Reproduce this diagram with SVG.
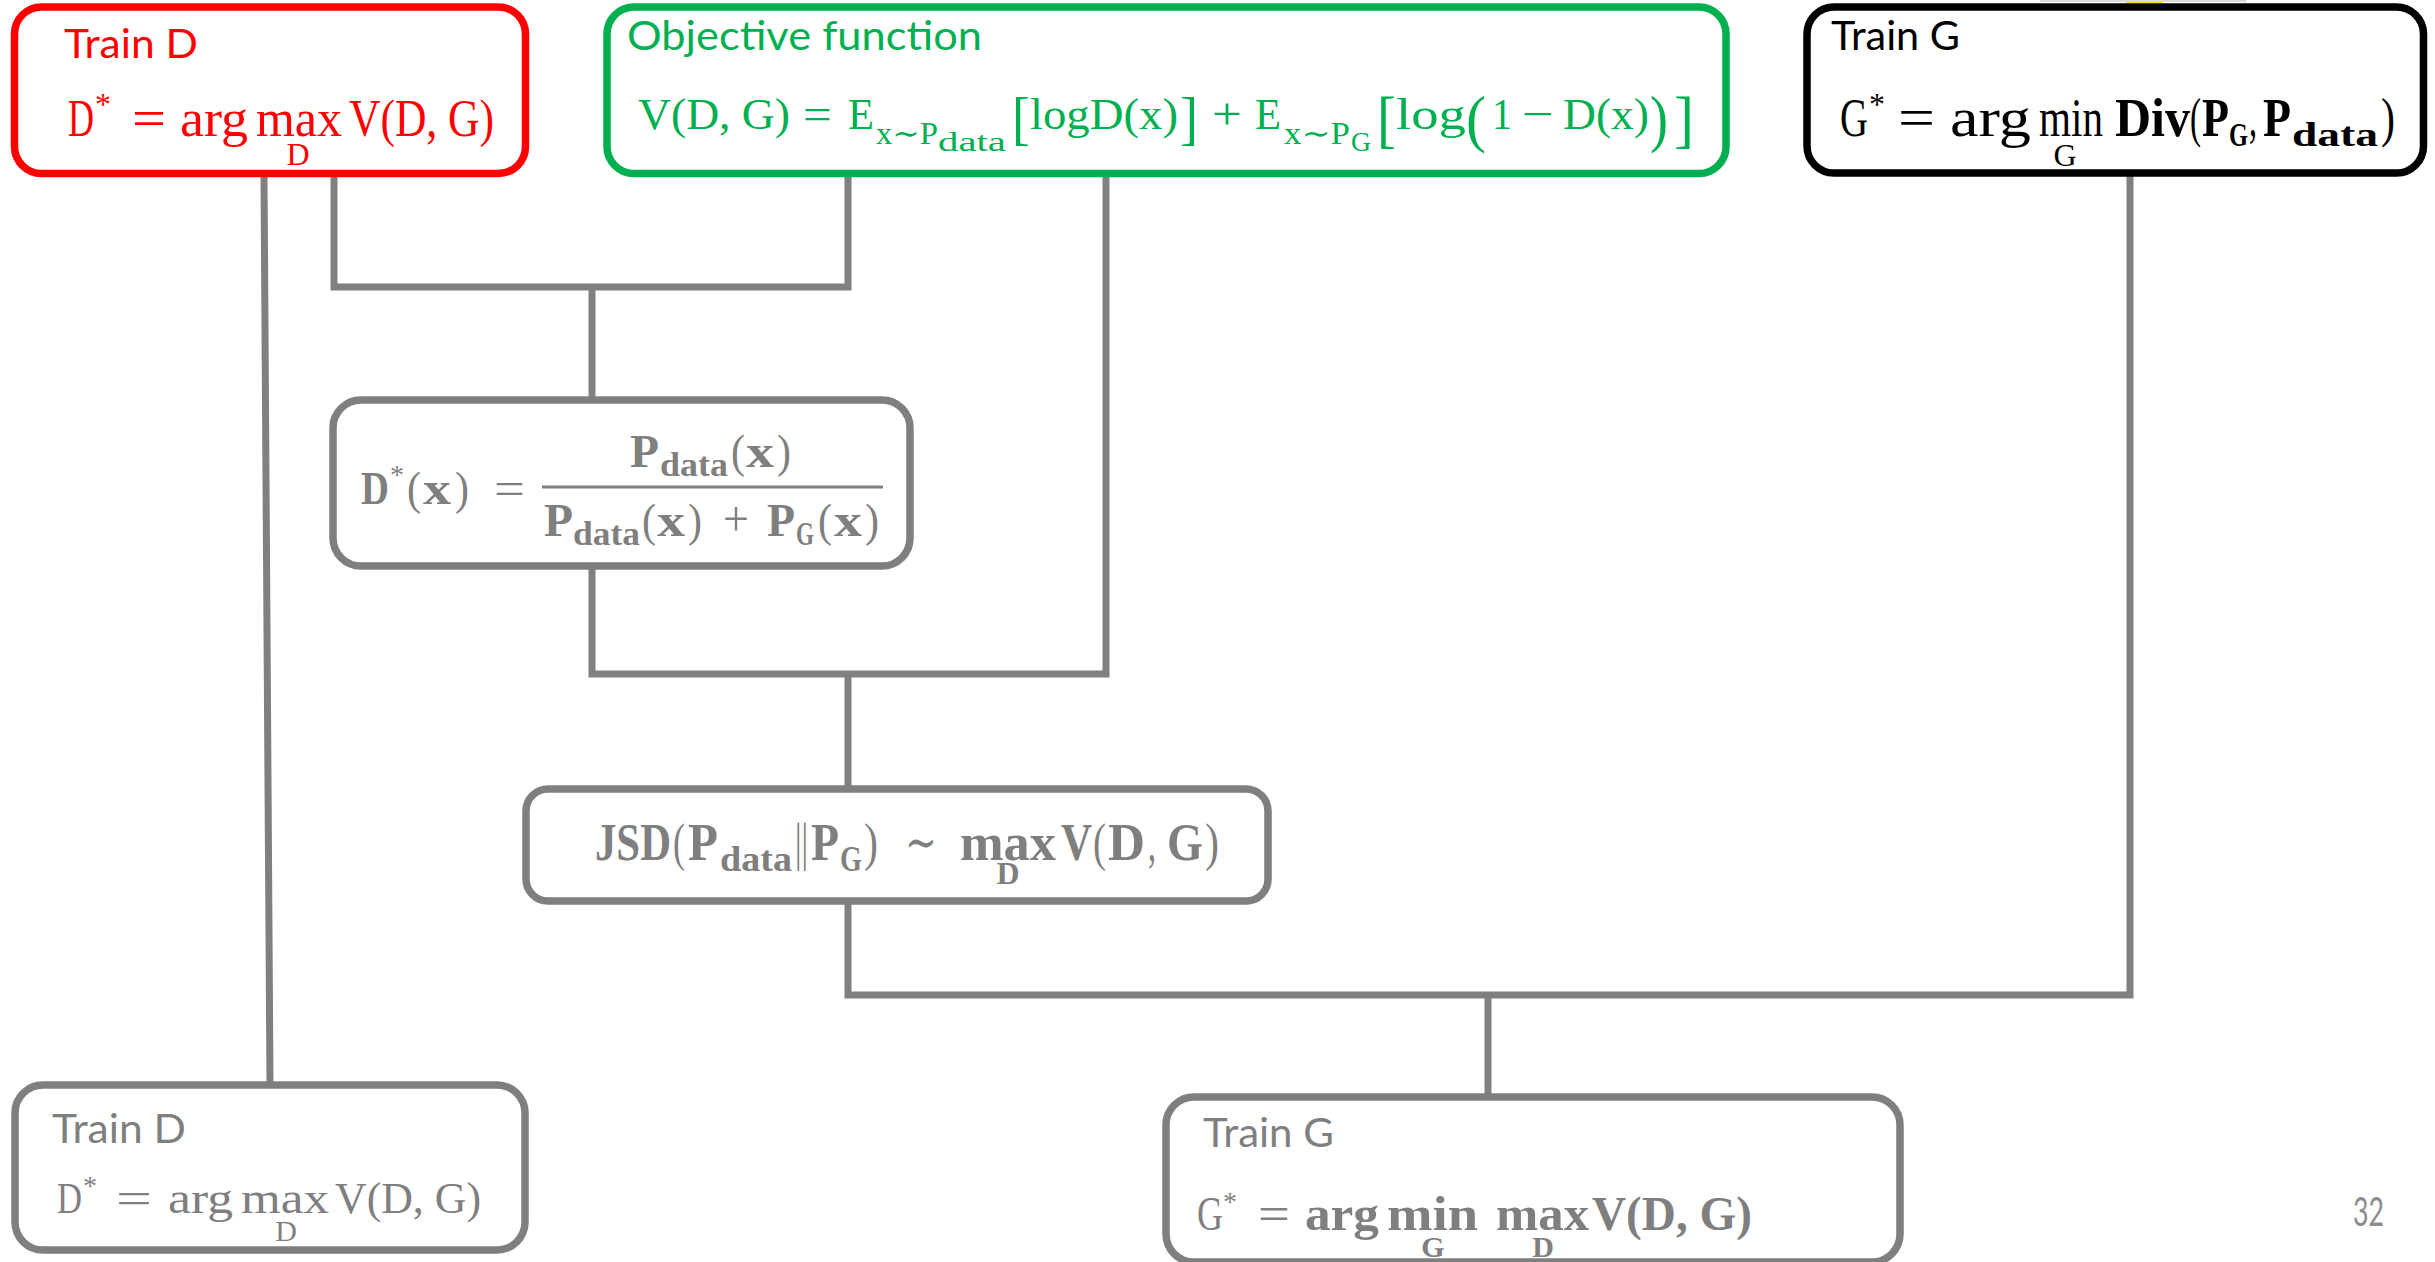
<svg xmlns="http://www.w3.org/2000/svg" width="2435" height="1262" viewBox="0 0 2435 1262">
  <style>
    .lbl { font-family: "Lato", "Open Sans", "Liberation Sans", sans-serif; font-size: 41px; }
    .m { font-family: "Liberation Serif", "DejaVu Serif", serif; }
    .b { font-weight: bold; }
    .red { fill: #ff0000; }
    .grn { fill: #00b050; }
    .blk { fill: #000000; }
    .gry { fill: #7f7f7f; }
    .box { fill: #ffffff; stroke-width: 7.5; }
    .conn { fill: none; stroke: #808080; stroke-width: 7; stroke-linejoin: miter; }
  </style>

  <rect width="2435" height="1262" fill="#ffffff"/>

  <!-- partial shape cut off at the top edge -->
  <rect x="2126" y="0" width="37" height="3" fill="#ffd700"/>
  <line x1="2040" y1="1" x2="2246" y2="1" stroke="#d9d9d9" stroke-width="2"/>

  <!-- connectors -->
  <g id="connectors" class="conn">
    <path d="M264,176 L270,1084"/>
    <path d="M334,176 V287 H848 V176"/>
    <path d="M592,287 V400"/>
    <path d="M592,566 V674 H1106 V176"/>
    <path d="M848,674 V789"/>
    <path d="M848,901 V995 H2130 V176"/>
    <path d="M1488,995 V1096"/>
  </g>

  <!-- Train D (top) -->
  <g id="train-d-top">
    <rect class="box" x="14.5" y="7" width="511" height="166.5" rx="27" stroke="#ff0000"/>
    <text class="lbl red" x="64" y="58" textLength="134" lengthAdjust="spacingAndGlyphs">Train D</text>
    <g class="m red" font-size="52">
      <text x="68" y="136" textLength="26" lengthAdjust="spacingAndGlyphs">D</text>
      <text x="95" y="115" font-size="32">*</text>
      <text x="132" y="136" textLength="34" lengthAdjust="spacingAndGlyphs">=</text>
      <text x="180" y="136" textLength="68" lengthAdjust="spacingAndGlyphs">arg</text>
      <text x="256" y="136" textLength="86" lengthAdjust="spacingAndGlyphs">max</text>
      <text x="349" y="136" textLength="145" lengthAdjust="spacingAndGlyphs">V(D, G)</text>
      <text x="298" y="165" font-size="32" text-anchor="middle">D</text>
    </g>
  </g>

  <!-- Objective function -->
  <g id="objective">
    <rect class="box" x="607" y="7" width="1119" height="166.5" rx="27" stroke="#00b050"/>
    <text class="lbl grn" x="627" y="50" textLength="355" lengthAdjust="spacingAndGlyphs">Objective function</text>
    <g class="m grn" font-size="45">
      <text x="638" y="129" textLength="152" lengthAdjust="spacingAndGlyphs">V(D, G)</text>
      <text x="803" y="129" textLength="29" lengthAdjust="spacingAndGlyphs">=</text>
      <text x="848" y="129" textLength="26" lengthAdjust="spacingAndGlyphs">E</text>
      <text x="876" y="144" font-size="31" textLength="62" lengthAdjust="spacingAndGlyphs">x∼P</text>
      <text x="938" y="151" font-size="27" textLength="68" lengthAdjust="spacingAndGlyphs">data</text>
      <text x="1012" y="138" font-size="60" textLength="18" lengthAdjust="spacingAndGlyphs">[</text>
      <text x="1030" y="129" textLength="148" lengthAdjust="spacingAndGlyphs">logD(x)</text>
      <text x="1180" y="138" font-size="60" textLength="18" lengthAdjust="spacingAndGlyphs">]</text>
      <text x="1212" y="129" textLength="30" lengthAdjust="spacingAndGlyphs">+</text>
      <text x="1255" y="129" textLength="26" lengthAdjust="spacingAndGlyphs">E</text>
      <text x="1284" y="144" font-size="31" textLength="66" lengthAdjust="spacingAndGlyphs">x∼P</text>
      <text x="1351" y="151" font-size="27" textLength="20" lengthAdjust="spacingAndGlyphs">G</text>
      <text x="1377" y="140" font-size="64" textLength="19" lengthAdjust="spacingAndGlyphs">[</text>
      <text x="1396" y="129" textLength="70" lengthAdjust="spacingAndGlyphs">log</text>
      <text x="1466" y="140" font-size="64" textLength="20" lengthAdjust="spacingAndGlyphs">(</text>
      <text x="1492" y="129" textLength="20" lengthAdjust="spacingAndGlyphs">1</text>
      <text x="1522" y="129" textLength="32" lengthAdjust="spacingAndGlyphs">−</text>
      <text x="1563" y="129" textLength="86" lengthAdjust="spacingAndGlyphs">D(x)</text>
      <text x="1650" y="140" font-size="64" textLength="18" lengthAdjust="spacingAndGlyphs">)</text>
      <text x="1674" y="140" font-size="64" textLength="20" lengthAdjust="spacingAndGlyphs">]</text>
    </g>
  </g>

  <!-- Train G (top) -->
  <g id="train-g-top">
    <rect class="box" x="1807" y="7" width="616.5" height="166" rx="27" stroke="#000000"/>
    <text class="lbl blk" x="1831" y="50" textLength="129" lengthAdjust="spacingAndGlyphs">Train G</text>
    <g class="m blk" font-size="54">
      <text x="1840" y="136" textLength="28" lengthAdjust="spacingAndGlyphs">G</text>
      <text x="1869" y="115" font-size="32">*</text>
      <text x="1898" y="136" textLength="37" lengthAdjust="spacingAndGlyphs">=</text>
      <text x="1950" y="136" textLength="81" lengthAdjust="spacingAndGlyphs">arg</text>
      <text x="2039" y="136" textLength="64" lengthAdjust="spacingAndGlyphs">min</text>
      <text x="2065" y="166" font-size="32" text-anchor="middle">G</text>
      <text class="b" x="2115" y="136" textLength="75" lengthAdjust="spacingAndGlyphs">Div</text>
      <text x="2190" y="136" textLength="11" lengthAdjust="spacingAndGlyphs">(</text>
      <text class="b" x="2202" y="136" textLength="27" lengthAdjust="spacingAndGlyphs">P</text>
      <text class="b" x="2229" y="146" font-size="34" textLength="19" lengthAdjust="spacingAndGlyphs">G</text>
      <text x="2249" y="136" textLength="8" lengthAdjust="spacingAndGlyphs">,</text>
      <text class="b" x="2263" y="136" textLength="28" lengthAdjust="spacingAndGlyphs">P</text>
      <text class="b" x="2292" y="146" font-size="34" textLength="86" lengthAdjust="spacingAndGlyphs">data</text>
      <text x="2381" y="136" textLength="14" lengthAdjust="spacingAndGlyphs">)</text>
    </g>
  </g>

  <!-- Optimal discriminator -->
  <g id="optimal-d">
    <rect class="box" x="333" y="400" width="577" height="166" rx="28" stroke="#7f7f7f"/>
    <g class="m gry" font-size="46">
      <text class="b" x="361" y="504" textLength="28" lengthAdjust="spacingAndGlyphs">D</text>
      <text x="390" y="484" font-size="28">*</text>
      <text x="407" y="504" textLength="14" lengthAdjust="spacingAndGlyphs">(</text>
      <text class="b" x="423" y="504" textLength="28" lengthAdjust="spacingAndGlyphs">x</text>
      <text x="455" y="504" textLength="14" lengthAdjust="spacingAndGlyphs">)</text>
      <text x="494" y="504" textLength="31" lengthAdjust="spacingAndGlyphs">=</text>
      <line x1="542" y1="487" x2="883" y2="487" stroke="#7f7f7f" stroke-width="3"/>
      <text class="b" x="630" y="467" textLength="29" lengthAdjust="spacingAndGlyphs">P</text>
      <text class="b" x="660" y="476" font-size="33" textLength="68" lengthAdjust="spacingAndGlyphs">data</text>
      <text x="731" y="467" textLength="14" lengthAdjust="spacingAndGlyphs">(</text>
      <text class="b" x="746" y="467" textLength="28" lengthAdjust="spacingAndGlyphs">x</text>
      <text x="777" y="467" textLength="14" lengthAdjust="spacingAndGlyphs">)</text>
      <text class="b" x="544" y="536" textLength="29" lengthAdjust="spacingAndGlyphs">P</text>
      <text class="b" x="573" y="545" font-size="33" textLength="67" lengthAdjust="spacingAndGlyphs">data</text>
      <text x="642" y="536" textLength="14" lengthAdjust="spacingAndGlyphs">(</text>
      <text class="b" x="657" y="536" textLength="28" lengthAdjust="spacingAndGlyphs">x</text>
      <text x="688" y="536" textLength="14" lengthAdjust="spacingAndGlyphs">)</text>
      <text x="723" y="536" font-size="50" textLength="26" lengthAdjust="spacingAndGlyphs">+</text>
      <text class="b" x="767" y="536" textLength="28" lengthAdjust="spacingAndGlyphs">P</text>
      <text class="b" x="796" y="545" font-size="33" textLength="18" lengthAdjust="spacingAndGlyphs">G</text>
      <text x="818" y="536" textLength="14" lengthAdjust="spacingAndGlyphs">(</text>
      <text class="b" x="834" y="536" textLength="28" lengthAdjust="spacingAndGlyphs">x</text>
      <text x="865" y="536" textLength="14" lengthAdjust="spacingAndGlyphs">)</text>
    </g>
  </g>

  <!-- Jensen-Shannon divergence -->
  <g id="jsd">
    <rect class="box" x="526" y="789" width="742" height="112" rx="22" stroke="#7f7f7f"/>
    <g class="m gry" font-size="52">
      <text class="b" x="595" y="860" textLength="76" lengthAdjust="spacingAndGlyphs">JSD</text>
      <text x="673" y="860" textLength="12" lengthAdjust="spacingAndGlyphs">(</text>
      <text class="b" x="688" y="860" textLength="30" lengthAdjust="spacingAndGlyphs">P</text>
      <text class="b" x="720" y="871" font-size="36" textLength="72" lengthAdjust="spacingAndGlyphs">data</text>
      <text x="795" y="860" textLength="13" lengthAdjust="spacingAndGlyphs">||</text>
      <text class="b" x="811" y="860" textLength="28" lengthAdjust="spacingAndGlyphs">P</text>
      <text class="b" x="840" y="871" font-size="36" textLength="22" lengthAdjust="spacingAndGlyphs">G</text>
      <text x="864" y="860" textLength="14" lengthAdjust="spacingAndGlyphs">)</text>
      <text x="905" y="860" textLength="32" lengthAdjust="spacingAndGlyphs">∼</text>
      <text class="b" x="960" y="860" textLength="96" lengthAdjust="spacingAndGlyphs">max</text>
      <text class="b" x="1008" y="884" font-size="32" text-anchor="middle">D</text>
      <text class="b" x="1061" y="860" textLength="31" lengthAdjust="spacingAndGlyphs">V</text>
      <text x="1093" y="860" textLength="13" lengthAdjust="spacingAndGlyphs">(</text>
      <text class="b" x="1108" y="860" textLength="37" lengthAdjust="spacingAndGlyphs">D</text>
      <text x="1148" y="860" textLength="8" lengthAdjust="spacingAndGlyphs">,</text>
      <text class="b" x="1167" y="860" textLength="36" lengthAdjust="spacingAndGlyphs">G</text>
      <text x="1205" y="860" textLength="14" lengthAdjust="spacingAndGlyphs">)</text>
    </g>
  </g>

  <!-- Train D (bottom) -->
  <g id="train-d-bottom">
    <rect class="box" x="15" y="1085" width="510" height="165" rx="28" stroke="#7f7f7f"/>
    <text class="lbl gry" x="52" y="1143" textLength="134" lengthAdjust="spacingAndGlyphs">Train D</text>
    <g class="m gry" font-size="44">
      <text x="57" y="1213" textLength="25" lengthAdjust="spacingAndGlyphs">D</text>
      <text x="83" y="1195" font-size="28">*</text>
      <text x="116" y="1213" textLength="36" lengthAdjust="spacingAndGlyphs">=</text>
      <text x="168" y="1213" textLength="65" lengthAdjust="spacingAndGlyphs">arg</text>
      <text x="241" y="1213" textLength="88" lengthAdjust="spacingAndGlyphs">max</text>
      <text x="335" y="1213" textLength="146" lengthAdjust="spacingAndGlyphs">V(D, G)</text>
      <text x="286" y="1241" font-size="30" text-anchor="middle">D</text>
    </g>
  </g>

  <!-- Train G (bottom) -->
  <g id="train-g-bottom">
    <rect class="box" x="1166" y="1097" width="734" height="165" rx="28" stroke="#7f7f7f"/>
    <text class="lbl gry" x="1203" y="1147" textLength="131" lengthAdjust="spacingAndGlyphs">Train G</text>
    <g class="m gry" font-size="48">
      <text x="1197" y="1230" textLength="26" lengthAdjust="spacingAndGlyphs">G</text>
      <text x="1223" y="1211" font-size="28">*</text>
      <text x="1258" y="1230" textLength="32" lengthAdjust="spacingAndGlyphs">=</text>
      <text class="b" x="1305" y="1230" textLength="74" lengthAdjust="spacingAndGlyphs">arg</text>
      <text class="b" x="1387" y="1230" textLength="91" lengthAdjust="spacingAndGlyphs">min</text>
      <text class="b" x="1433" y="1257" font-size="30" text-anchor="middle">G</text>
      <text class="b" x="1496" y="1230" textLength="93" lengthAdjust="spacingAndGlyphs">max</text>
      <text class="b" x="1543" y="1257" font-size="30" text-anchor="middle">D</text>
      <text class="b" x="1592" y="1230" textLength="160" lengthAdjust="spacingAndGlyphs">V(D, G)</text>
    </g>
  </g>

  <!-- page number -->
  <text class="lbl" x="2353" y="1226" font-size="25" fill="#8c8c8c" textLength="31" lengthAdjust="spacingAndGlyphs">32</text>
</svg>
